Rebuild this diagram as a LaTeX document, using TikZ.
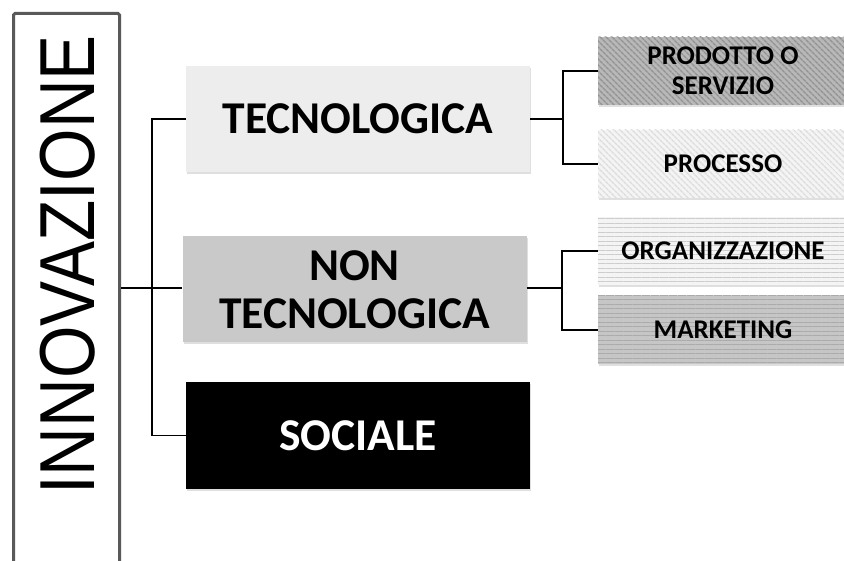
\documentclass[tikz,border=0pt]{standalone}
\usepackage{fontspec}
\setmainfont{Carlito}
\newfontfamily\arialf{Liberation Sans}
\usetikzlibrary{patterns.meta,shadows}
\definecolor{tecfill}{HTML}{EDEDED}
\definecolor{nonfill}{HTML}{C9C9C9}
\definecolor{prodfill}{HTML}{B8B8B8}
\definecolor{prodline}{HTML}{929292}
\definecolor{procfill}{HTML}{F4F4F4}
\definecolor{procline}{HTML}{DCDCDC}
\definecolor{orgfill}{HTML}{F4F4F4}
\definecolor{orgline}{HTML}{CDCDCD}
\definecolor{mktfill}{HTML}{C6C6C6}
\definecolor{mktline}{HTML}{ABABAB}
\tikzset{
  mainbox/.style={minimum width=344pt, minimum height=106pt, inner sep=0pt,
    font=\fontsize{45.5}{48}\selectfont\bfseries, align=center,
    drop shadow={shadow xshift=1pt, shadow yshift=-2pt, opacity=0.25}},
  subbox/.style={minimum width=250pt, minimum height=68pt, inner sep=0pt,
    font=\fontsize{27}{30}\selectfont\bfseries, align=center,
    drop shadow={shadow xshift=1pt, shadow yshift=-2pt, opacity=0.25}},
  subtext/.style={inner sep=0pt, font=\fontsize{27}{30}\selectfont\bfseries, align=center},
  conn/.style={line width=1.8pt, black},
}
\begin{document}
\begin{tikzpicture}[x=1pt,y=-1pt]
\useasboundingbox (0,0) rectangle (844,561);
\clip (0,0) rectangle (844,561);
% left title box
\node[draw=black!65, line width=3pt, minimum width=106pt, minimum height=560pt,
  inner sep=0pt, anchor=north west, rounded corners=1.5pt] (innobox) at (12,12) {};
\node[rotate=90, inner sep=0pt] (inno) at (68,265)
  {\scalebox{0.865}[1]{\arialf\fontsize{78}{80}\selectfont INNOVAZIONE}};
% main boxes
\node[mainbox, fill=tecfill] (tec) at (358,119) {TECNOLOGICA};
\node[mainbox, fill=nonfill] (non) at (354.5,289.5) {NON\\TECNOLOGICA};
\node[mainbox, fill=black, text=white] (soc) at (358,435.5) {SOCIALE};
% sub boxes
\node[subbox, fill=prodfill, postaction={pattern={Lines[angle=-45,distance=4pt,line width=1.4pt]}, pattern color=prodline}] (prod) at (723,71) {};
\node[subbox, fill=procfill, postaction={pattern={Lines[angle=-45,distance=4pt,line width=1.4pt]}, pattern color=procline}] (proc) at (723,164) {};
\node[subbox, fill=orgfill, postaction={pattern={Lines[angle=0,distance=4.5pt,line width=1pt]}, pattern color=orgline}] (org) at (723,251) {};
\node[subbox, fill=mktfill, postaction={pattern={Lines[angle=0,distance=4.5pt,line width=1pt]}, pattern color=mktline}] (mkt) at (723,330) {};
% labels on top of patterns
\node[subtext] (prodt) at (prod) {PRODOTTO O\\SERVIZIO};
\node[subtext] (proct) at (proc) {PROCESSO};
\node[subtext] (orgt) at (org) {ORGANIZZAZIONE};
\node[subtext] (mktt) at (mkt) {MARKETING};
% connectors
\coordinate (lj) at (152,288);
\draw[conn] (innobox.east |- lj) -- (non.west |- lj);
\draw[conn] (tec.west) -| (lj) |- (soc.west);
\coordinate (rj1) at (563,119);
\draw[conn] (tec.east) -- (rj1);
\draw[conn] (prod.west) -| (rj1) |- (proc.west);
\coordinate (rj2) at (562,288);
\draw[conn] (non.east |- rj2) -- (rj2);
\draw[conn] (org.west) -| (rj2) |- (mkt.west);
\end{tikzpicture}
\end{document}
